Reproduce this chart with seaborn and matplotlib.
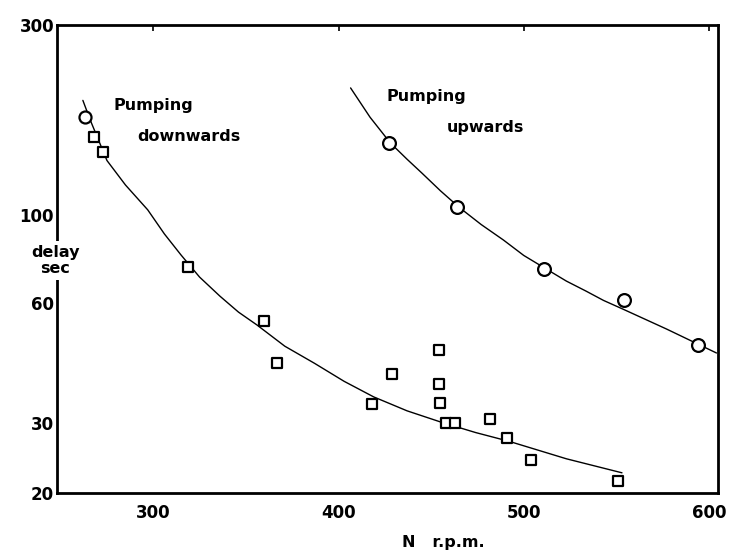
import numpy as np
import pandas as pd
import matplotlib
matplotlib.use("Agg")
import matplotlib.pyplot as plt
import seaborn as sns

# Data
down_rpm = [263, 268, 273, 319, 360, 367, 418, 429, 454, 454, 455, 458, 463, 482, 491, 504, 551]
down_delay = [176, 157, 144, 74, 54, 42.4, 33.5, 39.8, 45.8, 37.6, 33.7, 30, 30, 30.7, 27.5, 24.3, 21.4]
down_marker = ["o"] + ["s"] * 16

up_rpm = [427, 464, 511, 554, 594]
up_delay = [152, 104.5, 73, 61, 47]

# fitted curves as drawn
down_curve_rpm = [262, 266, 275, 285, 297, 306, 315, 325, 336, 346, 356, 371, 387,
                  403, 419, 437, 455, 474, 492, 523, 553]
down_curve_delay = [194, 173, 137, 118.9, 103, 89.6, 79.3, 69.8, 62.5, 57.0, 52.9, 46.8, 42.4,
                    38.2, 34.9, 32.2, 30.2, 28.4, 27.0, 24.4, 22.5]

up_curve_rpm = [406.5, 417, 428, 437, 445, 455, 465, 477, 489, 500, 512, 523,
                533.5, 543, 553.5, 577, 604]
up_curve_delay = [208.5, 176, 151.6, 138, 127.4, 115, 104.6, 94.6, 86.5, 79.1, 73.2, 68.2,
                  64.4, 61.0, 58.0, 51.7, 45.0]

yticks = [20, 30, 60, 100, 300]
xticks = [300, 400, 500, 600]

sns.set_style("white")
plt.rcParams['font.family'] = ['DejaVu Sans']
plt.rcParams.update({"text.color": "black", "axes.labelcolor": "black",
                     "xtick.color": "black", "ytick.color": "black"})

fig = plt.figure(figsize=(7.3, 5.56), dpi=100)
ax = fig.add_axes([0.078, 0.113, 0.906, 0.842])

sns.lineplot(x=down_curve_rpm, y=down_curve_delay, color="black", linewidth=1.0, ax=ax, sort=False)
sns.lineplot(x=up_curve_rpm, y=up_curve_delay, color="black", linewidth=1.0, ax=ax, sort=False)

df_down = pd.DataFrame({"rpm": down_rpm, "delay": down_delay, "m": down_marker})
for m, sub in df_down.groupby("m"):
    sns.scatterplot(data=sub, x="rpm", y="delay", marker=m, s=75 if m == "o" else 55,
                    color="white", edgecolor="black", linewidth=1.6, ax=ax, zorder=3)
sns.scatterplot(x=up_rpm, y=up_delay, marker="o", s=85, color="white",
                edgecolor="black", linewidth=1.6, ax=ax, zorder=3)

ax.set_yscale("log")
ax.set_xlim(248, 605)
ax.set_ylim(20, 300)
ax.set_yticks(yticks)
ax.set_yticklabels([str(v) for v in yticks])
ax.yaxis.set_minor_locator(matplotlib.ticker.NullLocator())
ax.set_xticks(xticks)
ax.set_xticklabels([str(v) for v in xticks])
ax.tick_params(direction="in", length=4, width=1.2, top=True, right=False,
               labelsize=12, pad=2, colors="black")
for lab in ax.get_xticklabels() + ax.get_yticklabels():
    lab.set_fontweight("bold")
ax.tick_params(axis="x", pad=8)

for s in ax.spines.values():
    s.set_linewidth(2.0)
    s.set_color("black")

ax.set_xlabel("")
ax.set_ylabel("")

lbl = dict(transform=fig.transFigure, fontsize=11.5, fontweight="bold", va="center", color="black")
ax.text(0.155, 0.811, "Pumping", **lbl)
ax.text(0.188, 0.754, "downwards", **lbl)
ax.text(0.530, 0.826, "Pumping", **lbl)
ax.text(0.612, 0.770, "upwards", **lbl)

fig.text(0.076, 0.532, "delay\nsec", ha="center", va="center", fontsize=11.5,
         fontweight="bold", linespacing=1.05, color="black",
         bbox=dict(facecolor="white", edgecolor="none", pad=3), zorder=10)
fig.text(0.607, 0.025, "N   r.p.m.", ha="center", va="center", fontsize=11.5,
         fontweight="bold", color="black")

fig.savefig("out.png", dpi=100)
